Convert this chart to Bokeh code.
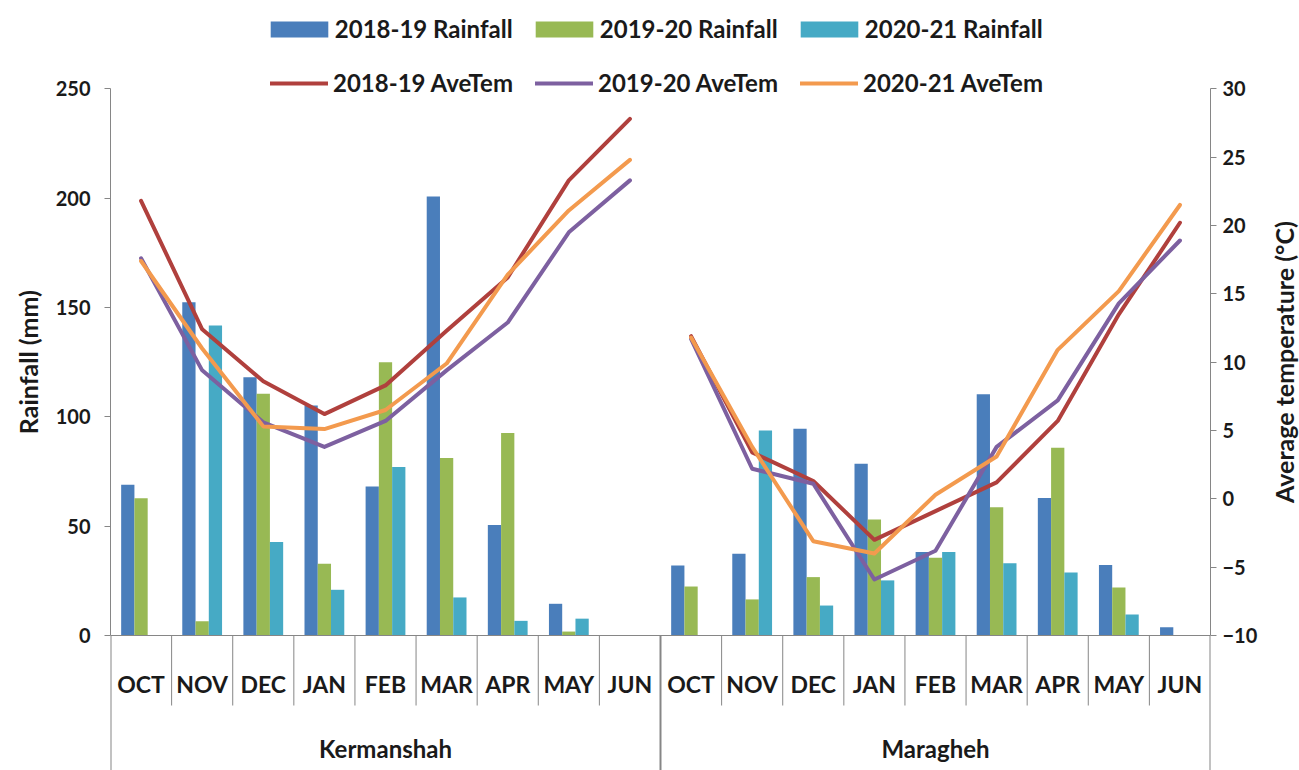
import math
import numpy as np
from bokeh.plotting import figure
from bokeh.layouts import row
from bokeh.models import Range1d, LinearAxis, FixedTicker, Legend, LegendItem
from bokeh.core.properties import value
from bokeh.embed import file_html
from bokeh.resources import INLINE

# ---- data -------------------------------------------------------------
months = ["OCT", "NOV", "DEC", "JAN", "FEB", "MAR", "APR", "MAY", "JUN"]
sites = ["Kermanshah", "Maragheh"]

# monthly rainfall (mm)
rain_1819_kermanshah = [68.9, 152.4, 118.1, 105.2, 68.1, 200.8, 50.5, 14.5, 0.0]
rain_1920_kermanshah = [62.8, 6.5, 110.5, 32.8, 125.0, 81.2, 92.6, 1.8, 0.0]
rain_2021_kermanshah = [0.0, 141.8, 42.7, 20.9, 77.0, 17.4, 6.7, 7.7, 0.0]
rain_1819_maragheh = [32.0, 37.4, 94.5, 78.5, 38.2, 110.3, 62.9, 32.2, 3.8]
rain_1920_maragheh = [22.4, 16.5, 26.7, 53.0, 35.6, 58.6, 85.8, 21.9, 0.0]
rain_2021_maragheh = [0.0, 93.7, 13.7, 25.2, 38.2, 33.0, 28.8, 9.6, 0.0]

# monthly average temperature (°C)
temp_1819_kermanshah = [21.8, 12.4, 8.6, 6.2, 8.3, 12.3, 16.2, 23.3, 27.8]
temp_1920_kermanshah = [17.6, 9.4, 5.6, 3.8, 5.7, 9.4, 12.9, 19.5, 23.3]
temp_2021_kermanshah = [17.4, 11.0, 5.3, 5.1, 6.5, 9.9, 16.4, 21.1, 24.8]
temp_1819_maragheh = [11.9, 3.4, 1.3, -3.0, -0.9, 1.2, 5.7, 13.5, 20.2]
temp_1920_maragheh = [11.7, 2.2, 1.1, -5.9, -3.8, 3.8, 7.2, 14.3, 18.9]
temp_2021_maragheh = [11.8, 3.8, -3.1, -4.0, 0.3, 3.1, 10.9, 15.2, 21.5]

rain_ticks = [0, 50, 100, 150, 200, 250]
temp_ticks = [-10, -5, 0, 5, 10, 15, 20, 25, 30]

rain_title = "Rainfall (mm)"
temp_title = "Average temperature (°C)"

# ---- layout (pixels) --------------------------------------------------
W, H = 1299, 770
LEFT_STRIP, RIGHT_STRIP = 50, 39        # side strips holding the axis titles
LEFT, RIGHT = 60, 47                    # axis panels of the main figure
MAIN_W = W - LEFT_STRIP - RIGHT_STRIP
LEFT_TITLE_X, RIGHT_TITLE_X = 27, 23    # title centre inside each strip
TOP_PX, ZERO_PX = 88.3, 635.0           # rows of the 250 mm and 0 mm levels
CAT_LABEL_PX, GROUP_LABEL_PX, SEP_PX = 683, 748, 705

mm_per_px = (rain_ticks[-1] - rain_ticks[0]) / (ZERO_PX - TOP_PX)
t_per_px = (temp_ticks[-1] - temp_ticks[0]) / (ZERO_PX - TOP_PX)
y_start = -(H - ZERO_PX) * mm_per_px
y_end = rain_ticks[-1] + TOP_PX * mm_per_px
t_start = temp_ticks[0] - (H - ZERO_PX) * t_per_px
t_end = temp_ticks[-1] + TOP_PX * t_per_px


def px_to_mm(py):
    return (ZERO_PX - py) * mm_per_px


GREY = "#868686"
TXT = "#1a1a1a"
FONT = "Lato"
bar_colors = ["#4A7EBB", "#98B954", "#46AAC5"]
line_colors = ["#B0403D", "#7D60A0", "#F39A4E"]

n_cat = len(months) * len(sites)
y_range = Range1d(y_start, y_end)
p = figure(width=MAIN_W, height=H, x_range=Range1d(0, n_cat), y_range=y_range,
           x_axis_location=None, y_axis_location=None, toolbar_location=None,
           output_backend="svg", min_border_left=LEFT, min_border_right=RIGHT,
           min_border_top=0, min_border_bottom=0)
p.outline_line_color = None
p.grid.visible = False
p.background_fill_color = "white"
p.border_fill_color = "white"
p.extra_y_ranges = {"temp": Range1d(t_start, t_end)}


def style_axis(ax):
    ax.axis_line_color = GREY
    ax.major_tick_line_color = GREY
    ax.minor_tick_line_color = None
    ax.major_tick_out = 6
    ax.major_tick_in = 0
    ax.major_label_text_font = FONT
    ax.major_label_text_font_style = "bold"
    ax.major_label_text_font_size = "20px"
    ax.major_label_text_color = TXT


left_ax = LinearAxis(ticker=FixedTicker(ticks=rain_ticks),
                     bounds=(rain_ticks[0], rain_ticks[-1]))
style_axis(left_ax)
left_ax.major_label_standoff = 14
p.add_layout(left_ax, "left")

right_ax = LinearAxis(y_range_name="temp", ticker=FixedTicker(ticks=temp_ticks),
                      bounds=(temp_ticks[0], temp_ticks[-1]))
style_axis(right_ax)
right_ax.major_label_standoff = 6
p.add_layout(right_ax, "right")

# ---- bars --------------------------------------------------------------
centers = np.arange(n_cat) + 0.5
BAR_W = 0.217
rain_series = [
    ("2018-19 Rainfall", rain_1819_kermanshah + rain_1819_maragheh),
    ("2019-20 Rainfall", rain_1920_kermanshah + rain_1920_maragheh),
    ("2020-21 Rainfall", rain_2021_kermanshah + rain_2021_maragheh),
]
bar_items = []
for i, (label, vals) in enumerate(rain_series):
    r = p.vbar(x=centers + (i - 1) * BAR_W, top=vals, bottom=0, width=BAR_W,
               fill_color=bar_colors[i], line_color=None)
    bar_items.append(LegendItem(label=label, renderers=[r]))

# ---- temperature lines (one segment per site) -------------------------
temp_series = [
    ("2018-19 AveTem", temp_1819_kermanshah, temp_1819_maragheh),
    ("2019-20 AveTem", temp_1920_kermanshah, temp_1920_maragheh),
    ("2020-21 AveTem", temp_2021_kermanshah, temp_2021_maragheh),
]
nm = len(months)
line_items = []
for i, (label, tk, tm) in enumerate(temp_series):
    r = p.multi_line(xs=[list(centers[:nm]), list(centers[nm:])], ys=[tk, tm],
                     y_range_name="temp", line_color=line_colors[i], line_width=4,
                     line_join="round", line_cap="round")
    line_items.append(LegendItem(label=label, renderers=[r]))

# ---- category axis drawn beneath the zero line ------------------------
sep_bottom = px_to_mm(SEP_PX)
inner = [k for k in range(1, n_cat) if k != nm]
p.segment(x0=inner, y0=[0] * len(inner), x1=inner, y1=[sep_bottom] * len(inner),
          line_color=GREY, line_width=1)
outer = [0, nm, n_cat]
p.segment(x0=outer, y0=[0, 0, 0], x1=outer, y1=[y_start] * 3, line_color=GREY, line_width=2)
p.segment(x0=[0], y0=[0], x1=[n_cat], y1=[0], line_color=GREY, line_width=1)

p.text(x=centers, y=[px_to_mm(CAT_LABEL_PX)] * n_cat, text=months * len(sites),
       text_align="center", text_baseline="middle", text_font=value(FONT),
       text_font_style="bold", text_font_size="23px", text_color=TXT)
p.text(x=[nm / 2, nm + nm / 2], y=[px_to_mm(GROUP_LABEL_PX)] * 2, text=sites,
       text_align="center", text_baseline="middle", text_font=value(FONT),
       text_font_style="bold", text_font_size="24px", text_color=TXT)


# ---- legends (two rows) -----------------------------------------------
def make_legend(items, glyph_w, glyph_h, standoff, label_w, loc):
    lg = Legend(items=items, orientation="horizontal", location=loc,
                glyph_width=glyph_w, glyph_height=glyph_h, label_standoff=standoff,
                label_width=label_w, spacing=4, padding=0, margin=0,
                border_line_color=None, background_fill_alpha=0,
                label_text_font=FONT, label_text_font_style="bold",
                label_text_font_size="24px", label_text_color=TXT)
    p.add_layout(lg)
    return lg


make_legend(bar_items, 72, 20, 0, 189, (152.8, H - 43))
make_legend(line_items, 58, 20, 5, 198, (160, H - 97))


# ---- side strips carrying the rotated axis titles ---------------------
def title_strip(width, text, cx):
    s = figure(width=width, height=H, x_range=Range1d(0, width), y_range=y_range,
               x_axis_location=None, y_axis_location=None, toolbar_location=None,
               output_backend="svg", min_border=0)
    s.outline_line_color = None
    s.grid.visible = False
    s.border_fill_color = "white"
    s.text(x=[cx], y=[(rain_ticks[0] + rain_ticks[-1]) / 2], text=[text],
           angle=math.pi / 2, text_align="center", text_baseline="middle",
           text_font=value(FONT), text_font_style="bold", text_font_size="25px",
           text_color=TXT)
    return s


layout = row(title_strip(LEFT_STRIP, rain_title, LEFT_TITLE_X), p,
             title_strip(RIGHT_STRIP, temp_title, RIGHT_TITLE_X), spacing=0)

open("out.html", "w").write(file_html(layout, INLINE))
